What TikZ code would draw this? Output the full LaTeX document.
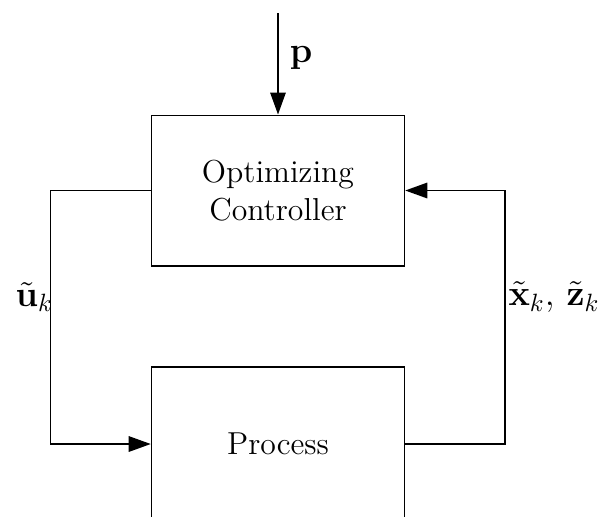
\documentclass[tikz,border=0pt]{standalone}
\usetikzlibrary{arrows.meta}
\begin{document}
\begin{tikzpicture}[x=0.4pt,y=-0.4pt,
  every node/.style={font=\fontsize{12.7}{15.2}\selectfont},
  blockbox/.style={draw, line width=0.6pt, minimum width=101.2pt, inner sep=0pt, align=center},
  conn/.style={line width=0.6pt},
  lab/.style={font=\fontsize{14.2}{17}\selectfont, inner sep=0pt},
  tip/.style={-{Triangle[length=8.8pt,width=6.2pt]}}]
\useasboundingbox (0,0) rectangle (599,516);
\node[blockbox, minimum height=60.2pt] (ctrl) at (278,190.5) {Optimizing\\Controller};
\node[blockbox, minimum height=61.6pt] (proc) at (278,444) {Process};
\coordinate (top) at (278,13);
\coordinate (lc1) at (50.5,190.5);
\coordinate (lc2) at (50.5,444);
\coordinate (rc1) at (505,444);
\coordinate (rc2) at (505,190.5);
\draw[conn,tip] (top) -- (ctrl.north);
\draw[conn,tip] (ctrl.west) -- (lc1) -- (lc2) -- (proc.west);
\draw[conn,tip] (proc.east) -- (rc1) -- (rc2) -- (ctrl.east);
\node[lab, font=\fontsize{13.5}{16}\selectfont] (plab) at (301,58) {$\mathbf{p}$};
\node[lab, anchor=west] (ulab) at (15,297) {$\tilde{\mathbf{u}}_k$};
\node[lab, anchor=west] (xlab) at (508,297) {$\tilde{\mathbf{x}}_k,\,\tilde{\mathbf{z}}_k$};
\end{tikzpicture}
\end{document}
